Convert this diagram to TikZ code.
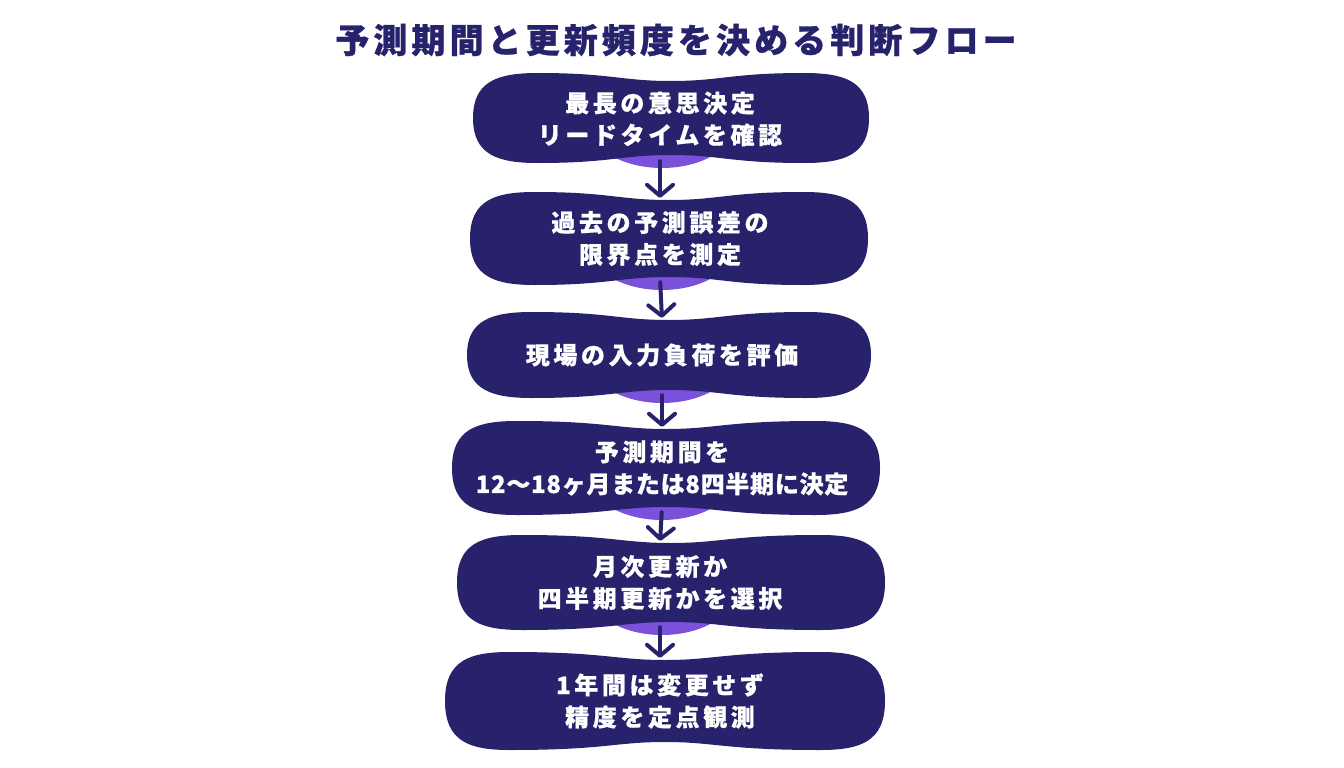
\documentclass[tikz,border=0pt]{standalone}
\usepackage{fontspec}
\newfontfamily\cjk[LetterSpace=15,BoldFeatures={FakeBold=0.6}]{Noto Sans CJK JP}
\newfontfamily\cjktitle[LetterSpace=12,BoldFeatures={FakeBold=0.8}]{Noto Sans CJK JP}
\newfontfamily\cjknum[LetterSpace=3,BoldFeatures={FakeBold=0.6}]{Noto Sans CJK JP}
\usetikzlibrary{arrows.meta}
\definecolor{navy}{HTML}{27226B}
\definecolor{lens}{HTML}{7B50DA}
\definecolor{ttl}{HTML}{26236C}
\newcommand\drawlens[1]{%
  \fill[lens] ({662-55},{#1-10}) .. controls ({662-25},{#1+10}) and ({662+25},{#1+10}) .. ({662+55},{#1-10}) -- cycle;
}
\newcommand\drawblob[4]{%
  \pgfmathsetmacro\bL{#1-#3}\pgfmathsetmacro\bR{#1+#3}%
  \pgfmathsetmacro\bT{#2-#4}\pgfmathsetmacro\bB{#2+#4}%
  \fill[navy] (\bL,#2) .. controls (\bL,{\bT+8}) and ({\bL+25},\bT) .. ({\bL+65},\bT)
    .. controls ({#1-60},\bT) and ({#1-50},{\bT+8}) .. (#1,{\bT+8})
    .. controls ({#1+50},{\bT+8}) and ({#1+60},\bT) .. ({\bR-65},\bT)
    .. controls ({\bR-25},\bT) and (\bR,{\bT+8}) .. (\bR,#2)
    .. controls (\bR,{\bB-8}) and ({\bR-25},\bB) .. ({\bR-65},\bB)
    .. controls ({#1+60},\bB) and ({#1+50},{\bB-8}) .. (#1,{\bB-8})
    .. controls ({#1-50},{\bB-8}) and ({#1-60},\bB) .. ({\bL+65},\bB)
    .. controls ({\bL+25},\bB) and (\bL,{\bB-8}) .. (\bL,#2) -- cycle;
}
\tikzset{
  stepnode/.style={text=white, align=center, inner sep=0pt, minimum width=300pt,
    font=\cjk\bfseries\fontsize{24}{32}\selectfont},
  arr/.style={navy, line width=4pt, line cap=round,
    -{Straight Barb[length=11pt,width=26pt,line cap=round,line join=round]},
    shorten <=5pt, shorten >=2pt},
  titlefont/.style={text=ttl, font=\cjktitle\bfseries\fontsize{34}{38}\selectfont}
}
\begin{document}
\begin{tikzpicture}[x=1pt,y=-1pt]
\useasboundingbox (0,0) rectangle (1344,768);
\fill[white] (0,0) rectangle (1344,768);
\node[titlefont] (title) at (676,40) {予測期間と更新頻度を決める判断フロー};
\drawlens{163}
\drawblob{671}{118}{198}{45}
\node[stepnode, minimum height=74pt] (n1) at (660,119) {最長の意思決定\\リードタイムを確認};
\drawlens{285}
\drawblob{669}{238.5}{199}{46.5}
\node[stepnode, minimum height=77pt] (n2) at (660,238.5) {過去の予測誤差の\\限界点を測定};
\drawlens{398}
\drawblob{669}{355}{202}{43}
\node[stepnode, minimum height=70pt] (n3) at (662,355) {現場の入力負荷を評価};
\drawlens{515}
\drawblob{666}{468}{214}{47}
\node[stepnode, minimum height=78pt] (n4) at (662,468) {予測期間を\\{\cjknum 12〜18ヶ月または8四半期に決定}};
\drawlens{630}
\drawblob{671}{582.5}{214}{47.5}
\node[stepnode, minimum height=79pt] (n5) at (660,582.5) {月次更新か\\四半期更新かを選択};
\drawblob{665}{701}{220}{49}
\node[stepnode, minimum height=82pt] (n6) at (660,701) {1年間は変更せず\\精度を定点観測};
\draw[arr] (n1.south) -- (n2.north);
\draw[arr] (n2.south) -- (n3.north);
\draw[arr] (n3.south) -- (n4.north);
\draw[arr] (n4.south) -- (n5.north);
\draw[arr] (n5.south) -- (n6.north);
\end{tikzpicture}
\end{document}
